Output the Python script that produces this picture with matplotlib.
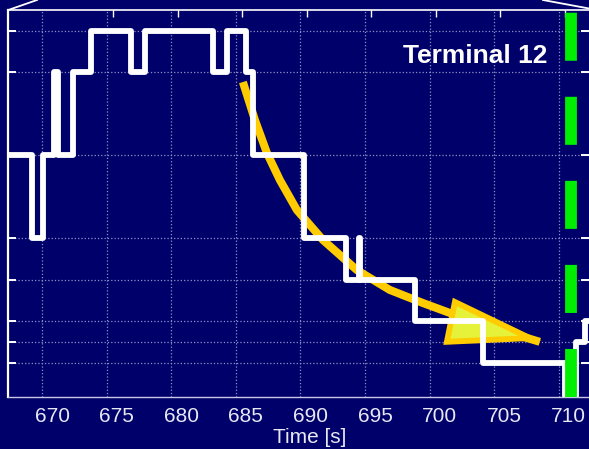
import matplotlib
matplotlib.use('Agg')
import matplotlib.pyplot as plt
from matplotlib.lines import Line2D
from matplotlib.patches import Polygon
from matplotlib.transforms import ScaledTranslation

# serving level of the terminal over time (steps)
step_t = [667.0, 669.2, 670.1, 670.95, 671.25, 672.4, 673.8, 676.9, 678.0, 683.2, 684.3,
          685.8, 686.3, 690.3, 693.5, 694.5, 694.6, 698.9, 704.1, 710.5, 711.3, 712.0, 712.6]
step_level = [11, 7, 11, 15, 11, 15, 17, 15, 17, 15, 17,
              15, 11, 7, 5, 7, 5, 3, 1, -0.6, 2, 3, 3]

# hand drawn decay trend
trend_t = [685.55, 686.48, 687.41, 688.41, 689.73, 691.74, 694.37, 696.92, 699.48, 701.57, 704.66, 708.53]
trend_y = [14.54, 12.71, 11.12, 9.82, 8.37, 6.93, 5.48, 4.52, 3.89, 3.41, 2.74, 2.02]
head_t = [701.96, 701.34, 707.76]
head_y = [3.94, 2.02, 2.20]

handover_t = 710.95
level_ticks = [1, 2, 3, 5, 7, 11, 15, 17]
time_ticks = [670, 675, 680, 685, 690, 695, 700, 705, 710]

bg = '#00006a'
plt.rcParams['font.family'] = ['Liberation Sans', 'DejaVu Sans']

fig = plt.figure(figsize=(5.89, 4.49), dpi=100, facecolor=bg)
ax = fig.add_axes([0.0141, 0.1158, 0.9859, 0.8619], facecolor=bg)

ax.set_xlim(667.39, 712.34)
ax.set_ylim(-0.64, 18.01)

ax.grid(True, color='#9090c8', linestyle=':', linewidth=0.9)
ax.set_axisbelow(True)

# trend arrow
ax.plot(trend_t, trend_y, color='#ffcc00', lw=5.8, solid_capstyle='butt', zorder=2)
ax.add_patch(Polygon(list(zip(head_t, head_y)), closed=True, facecolor='#e6f23a',
                     edgecolor='#ffcc00', lw=4.2, joinstyle='miter', zorder=2))

ax.plot(step_t, step_level, drawstyle='steps-post', color='white', lw=4.2, zorder=3)

ax.plot([handover_t, handover_t], [-0.64, 18.01], color='#00ee00', lw=8.5,
        dashes=(4.07, 3.05), solid_capstyle='butt', dash_capstyle='butt', zorder=4)

ax.text(0.9277, 0.863, 'Terminal 12', transform=ax.transAxes, ha='right', va='baseline',
        color='white', fontsize=19, fontweight='bold', zorder=5)

ax.set_xticks(time_ticks)
ax.set_yticks(level_ticks)
ax.set_yticklabels([])
ax.tick_params(axis='x', bottom=False, top=True, direction='in', length=5, width=1,
               color='white', labelsize=15, labelcolor='#e8e8f4', pad=7)
ax.tick_params(axis='y', left=True, right=True, direction='in', length=6, width=1.4,
               color='white')

shift_label = ScaledTranslation(0.10, 0, fig.dpi_scale_trans)
shift_top = ScaledTranslation(0.063, 0, fig.dpi_scale_trans)
for i, tick in enumerate(ax.xaxis.get_major_ticks()):
    tick.label1.set_transform(tick.label1.get_transform() + shift_label)
    tick.tick2line.set_transform(tick.tick2line.get_transform() + shift_top)
    if i == 0:
        tick.tick2line.set_visible(False)

ax.set_xlabel('Time [s]', fontsize=15, color='#e8e8f4')
ax.xaxis.set_label_coords(0.5196, -0.119)
ax.xaxis.label.set_va('baseline')

ax.spines['right'].set_visible(False)
ax.spines['left'].set_color('white')
ax.spines['left'].set_linewidth(1.6)
ax.spines['top'].set_color('white')
ax.spines['top'].set_linewidth(1.2)
ax.spines['bottom'].set_color('#c8c8e6')
ax.spines['bottom'].set_linewidth(1.0)

# perspective edges above the frame
W, H = 589.0, 449.0
fig.add_artist(Line2D([8.3 / W, 37 / W], [1 - 10 / H, 1.0], color='white', lw=1.3))
fig.add_artist(Line2D([543 / W, 1.0], [1.0, 1 - 8.5 / H], color='white', lw=1.3))

fig.savefig('out.png', dpi=100, facecolor=bg)
